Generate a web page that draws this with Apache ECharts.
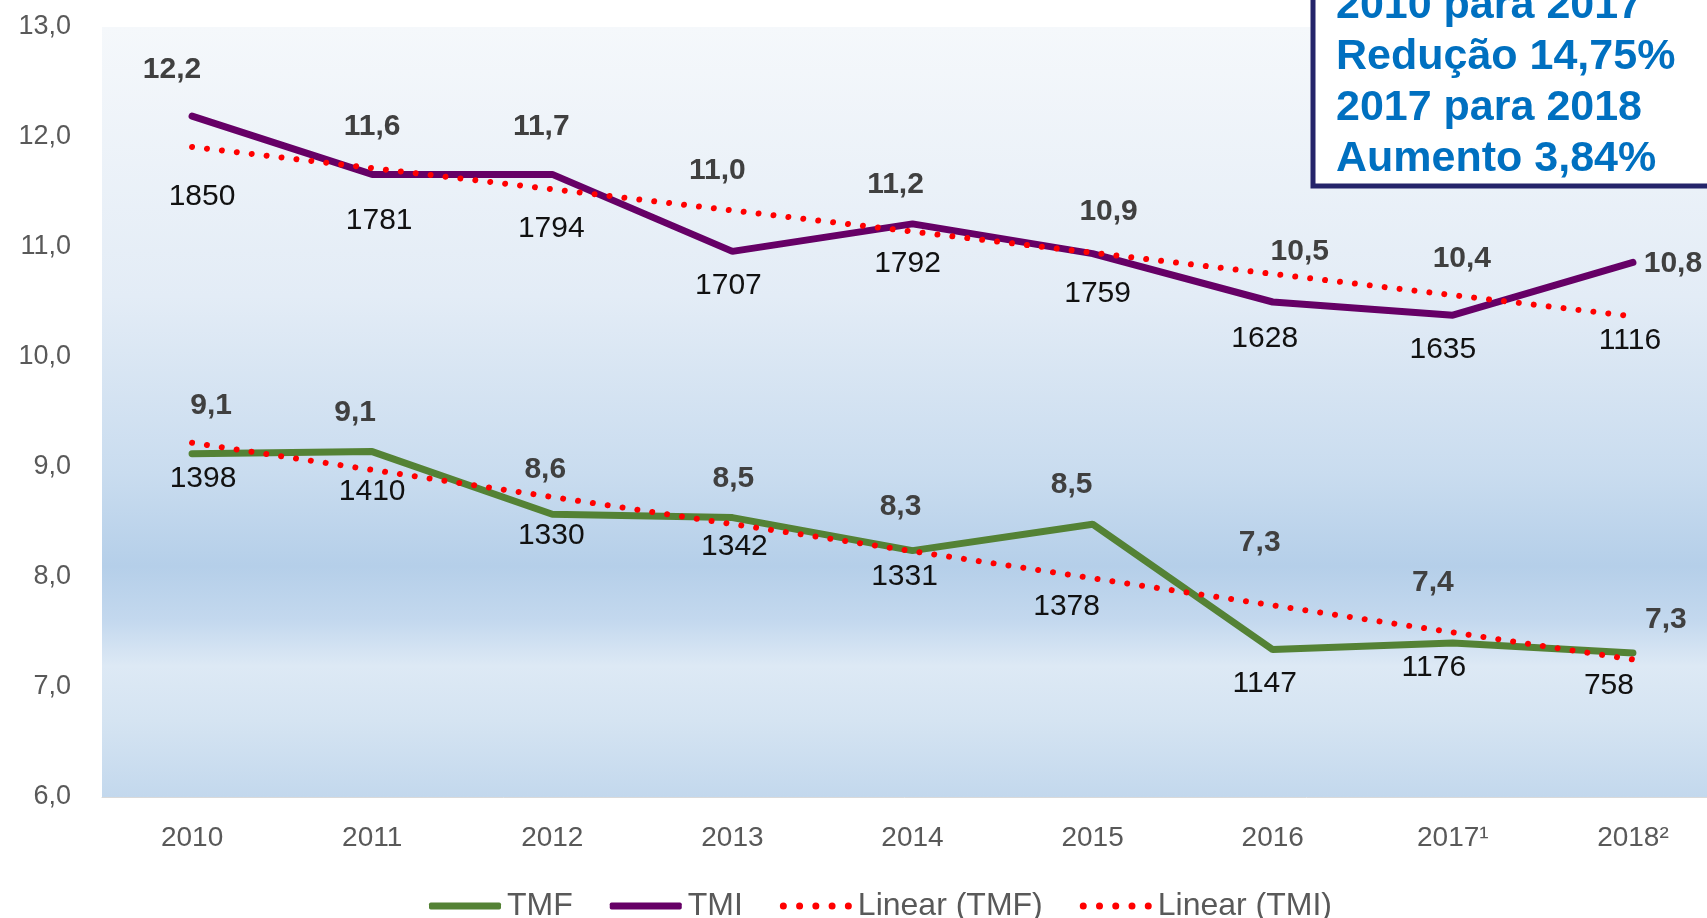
<!DOCTYPE html>
<html>
<head>
<meta charset="utf-8">
<script src="https://cdn.jsdelivr.net/npm/echarts@6/dist/echarts.min.js"></script>
<style>
html,body{margin:0;padding:0;background:#fff;}
#c{width:1707px;height:918px;}
</style>
</head>
<body>
<div id="c"></div>
<script>
// ---- data ----
const years = ['2010','2011','2012','2013','2014','2015','2016','2017¹','2018²'];
const tmi = [12.19, 11.66, 11.66, 10.96, 11.21, 10.94, 10.50, 10.38, 10.86];
const tmf = [9.12, 9.14, 8.57, 8.54, 8.24, 8.48, 7.34, 7.40, 7.31];
const tmiLabels = ['12,2','11,6','11,7','11,0','11,2','10,9','10,5','10,4','10,8'];
const tmfLabels = ['9,1','9,1','8,6','8,5','8,3','8,5','7,3','7,4','7,3'];
const tmiCounts = [1850,1781,1794,1707,1792,1759,1628,1635,1116];
const tmfCounts = [1398,1410,1330,1342,1331,1378,1147,1176,758];
// trend line end points (2010, 2018)
const trendTMI = [11.91, 10.37];
const trendTMF = [9.22, 7.25];
const yTicks = {min: 6, max: 13, interval: 1};
const boxLines = ['2010 para 2017','Redução 14,75%','2017 para 2018','Aumento 3,84%'];

// ---- label placement (relative offsets, px) ----
const tmiValOff = [[-20,-46],[0,-48],[-11,-48],[-15,-81],[-17,-39],[16,-42],[27,-50],[9,-56],[40,1]];
const tmiCntOff = [[10,81],[7,46],[-1,54],[-4,34],[-5,40],[5,40],[-8,37],[-10,35],[-3,78]];
const tmfValOff = [[19,-48],[-17,-39],[-7,-45],[1,-39],[-12,-44],[-21,-39],[-13,-107],[-20,-60],[33,-33]];
const tmfCntOff = [[11,25],[0,40],[-1,21],[2,29],[-8,26],[-26,83],[-8,34],[-19,25],[-24,33]];

const FONT = '"Liberation Sans", Arial, sans-serif';

function trendData(ends){
  const d = years.map(() => null);
  d[0] = ends[0]; d[d.length-1] = ends[1];
  return d;
}
function labelSeries(name, vals, texts, offs, bold){
  return {
    name: name, type: 'line', data: vals.map((v,i) => ({value: v, label: {offset: offs[i], formatter: String(texts[i])}})),
    symbol: 'circle', symbolSize: 1, itemStyle: {color: 'rgba(0,0,0,0)'},
    lineStyle: {width: 0, opacity: 0}, silent: true, z: 10,
    label: {show: true, position: 'inside', fontFamily: FONT, fontSize: 30,
      fontWeight: bold ? 'bold' : 'normal', color: bold ? '#404040' : '#111111'}
  };
}
// five dots icon for the trend legend entries
let dotsPath = 'path://';
for (let k = 0; k < 5; k++) {
  const cx = 3.5 + k * 16.25;
  dotsPath += 'M' + (cx - 3.5) + ',3.5 a3.5,3.5 0 1,0 7,0 a3.5,3.5 0 1,0 -7,0 Z ';
}

const chart = echarts.init(document.getElementById('c'), null, {renderer: 'canvas'});
const redDots = {color: '#ff0000', width: 6, type: [0.01, 15], cap: 'round'};
chart.setOption({
  animation: false,
  backgroundColor: '#ffffff',
  grid: {left: 102, top: 27, width: 1621, height: 770, outerBoundsMode: 'none', containLabel: false,
    show: true, borderWidth: 0,
    backgroundColor: {type: 'linear', x: 0, y: 0, x2: 0, y2: 1, colorStops: [
      {offset: 0, color: '#f5f8fb'},
      {offset: 0.35, color: '#e3ecf6'},
      {offset: 0.58, color: '#c9dcef'},
      {offset: 0.7, color: '#b5cfe9'},
      {offset: 0.77, color: '#c3d8ee'},
      {offset: 0.83, color: '#dde9f5'},
      {offset: 0.9, color: '#d5e4f2'},
      {offset: 1, color: '#c3d8ed'}
    ]}},
  legend: {
    left: 424, top: 885, itemWidth: 72, itemHeight: 7, itemGap: 37,
    data: [
      {name: 'TMF', icon: 'roundRect'},
      {name: 'TMI', icon: 'roundRect'},
      {name: 'Linear (TMF)', icon: dotsPath},
      {name: 'Linear (TMI)', icon: dotsPath}
    ],
    textStyle: {fontFamily: FONT, fontSize: 32, color: '#595959', padding: [0, 0, 0, 1]}
  },
  xAxis: {
    type: 'category', data: years, boundaryGap: true,
    axisLine: {show: true, lineStyle: {color: '#d9d9d9', width: 1}},
    axisTick: {show: false},
    axisLabel: {fontFamily: FONT, fontSize: 28, color: '#595959', margin: 27}
  },
  yAxis: {
    type: 'value', min: yTicks.min, max: yTicks.max, interval: yTicks.interval,
    splitLine: {show: false}, axisLine: {show: false}, axisTick: {show: false},
    axisLabel: {fontFamily: FONT, fontSize: 27, color: '#595959', margin: 31,
      formatter: v => v.toFixed(1).replace('.', ',')}
  },
  series: [
    {name: 'TMF', type: 'line', data: tmf, symbol: 'none', z: 3,
      lineStyle: {color: '#548235', width: 7, cap: 'round'}, itemStyle: {color: '#548235'}},
    {name: 'TMI', type: 'line', data: tmi, symbol: 'none', z: 3,
      lineStyle: {color: '#660066', width: 7, cap: 'round'}, itemStyle: {color: '#660066'}},
    {name: 'Linear (TMF)', type: 'line', data: trendData(trendTMF), connectNulls: true, symbol: 'none', z: 4,
      lineStyle: redDots, itemStyle: {color: '#ff0000'}},
    {name: 'Linear (TMI)', type: 'line', data: trendData(trendTMI), connectNulls: true, symbol: 'none', z: 4,
      lineStyle: redDots, itemStyle: {color: '#ff0000'}},
    labelSeries('tmi_v', tmi, tmiLabels, tmiValOff, true),
    labelSeries('tmi_n', tmi, tmiCounts, tmiCntOff, false),
    labelSeries('tmf_v', tmf, tmfLabels, tmfValOff, true),
    labelSeries('tmf_n', tmf, tmfCounts, tmfCntOff, false)
  ],
  graphic: [
    {type: 'rect', z: 100, shape: {x: 1313, y: -20, width: 420, height: 206},
      style: {fill: '#ffffff', stroke: '#24246a', lineWidth: 5}},
    ...boxLines.map((t, i) => ({type: 'text', z: 101, x: 1336, y: 6 + i * 51,
      style: {text: t, fill: '#0070c0', font: 'bold 43px ' + FONT, textVerticalAlign: 'middle', verticalAlign: 'middle'}}))
  ]
});
</script>
</body>
</html>
